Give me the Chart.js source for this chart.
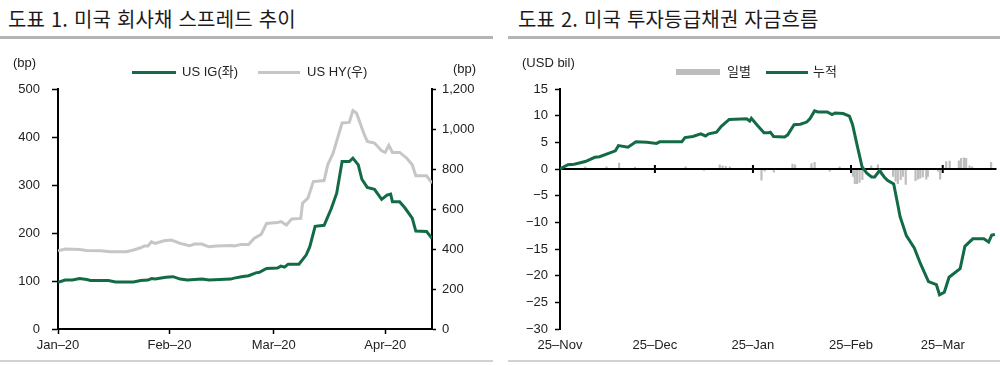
<!DOCTYPE html>
<html lang="ko">
<head>
  <meta charset="UTF-8">
  <title>미국 회사채 스프레드 / 투자등급채권 자금흐름</title>
  <style>
    body {
      margin: 0;
      width: 1000px;
      height: 365px;
      background: #fff;
      position: relative;
      overflow: hidden;
      font-family: 'Liberation Sans', Arial, 'Noto Sans CJK KR', sans-serif;
      color: #222;
    }
    .abs { position: absolute; }
    .title {
      font-family: 'Noto Sans CJK KR', sans-serif;
      font-size: 20px;
      font-weight: 400;
      letter-spacing: 0.2px;
      line-height: 20px;
      top: 9px;
      color: #1a1a1a;
      white-space: nowrap;
    }
    .rule { background: #b4b4b4; height: 3px; top: 36px; }
    .foot { background: #d2d2d2; height: 1.5px; top: 360px; }
    .lbl { font-size: 13px; line-height: 16px; white-space: nowrap; }
    .chart { top: 0; height: 365px; }
  </style>
  <script src="https://cdn.jsdelivr.net/npm/chart.js"></script>
</head>
<body>
  <div class="abs title" style="left:8px">도표 1. 미국 회사채 스프레드 추이</div>
  <div class="abs title" style="left:518px">도표 2. 미국 투자등급채권 자금흐름</div>
  <div class="abs rule" style="left:0;width:493px"></div>
  <div class="abs rule" style="left:508px;width:492px"></div>
  <div class="abs foot" style="left:0;width:493px"></div>
  <div class="abs foot" style="left:508px;width:492px"></div>

  <div class="abs chart" style="left:0;width:495px"><canvas id="spread"></canvas></div>
  <div class="abs chart" style="left:500px;width:500px"><canvas id="flows"></canvas></div>

  <div class="abs lbl" style="left:13px;top:55px">(bp)</div>
  <div class="abs lbl" style="left:453px;top:61px">(bp)</div>
  <div class="abs lbl" style="left:522px;top:55px">(USD bil)</div>

  <div class="abs" style="left:132px;top:70.5px;width:44px;height:3px;background:#136b46"></div>
  <div class="abs lbl" style="left:182px;top:64px">US IG(좌)</div>
  <div class="abs" style="left:258px;top:70.5px;width:42px;height:3px;background:#c6c6c6"></div>
  <div class="abs lbl" style="left:307px;top:64px">US HY(우)</div>

  <div class="abs" style="left:676px;top:68.5px;width:44px;height:6px;background:#bdbdbd"></div>
  <div class="abs lbl" style="left:727px;top:64px">일별</div>
  <div class="abs" style="left:766px;top:70.5px;width:42px;height:3px;background:#136b46"></div>
  <div class="abs lbl" style="left:813px;top:64px">누적</div>

  <script>
    // 도표 1 : x = days since 2020-01-01
    const igDays = [0, 2, 4, 6, 8, 9, 14, 16, 21, 23, 25, 26, 27, 30, 32, 34, 36, 38, 40, 42, 48, 49, 51, 53, 55, 56, 58, 61, 62, 63, 64, 67, 69, 70, 71.5, 74, 76, 77.5, 79, 81, 82, 83.5, 84.5, 86, 88, 90, 91.5, 92.5, 93, 95, 96.5, 98.5, 99.5, 102.5, 104];
    const igValues = [97, 102, 102, 105, 103, 101, 101, 98, 98, 101, 102, 105, 104, 108, 109, 104, 102, 103, 104, 102, 104, 106, 109, 111, 117, 118, 126, 127, 131, 129, 135, 135, 154, 171, 214, 216, 251, 283, 349, 349, 356, 342, 312, 295, 291, 270, 279, 281, 265, 265, 252, 231, 204, 203, 189];
    const hyDays = [0, 2, 6, 8, 12, 14.5, 19, 21, 23, 24, 25, 26, 27, 29.5, 31.5, 34, 36.5, 38, 40, 42, 44, 48, 49, 51, 53, 54.5, 56.5, 58, 61, 62, 63.5, 65, 67.5, 68, 69.5, 71, 74, 75, 76.5, 79, 81, 82, 83, 85, 86, 88, 90, 91, 92, 93, 95, 97, 98.5, 99.5, 102.5, 104];
    const hyValues = [391, 400, 398, 393, 391, 386, 386, 395, 406, 415, 415, 436, 428, 441, 445, 428, 416, 425, 425, 411, 415, 418, 415, 423, 423, 453, 473, 528, 532, 537, 520, 550, 553, 629, 654, 737, 742, 821, 879, 1030, 1033, 1092, 1080, 980, 938, 930, 891, 883, 918, 883, 883, 854, 821, 766, 766, 729];
    const spreadTickDays = [0, 31, 60, 91];
    const spreadTickLabels = ['Jan–20', 'Feb–20', 'Mar–20', 'Apr–20'];

    // 도표 2 : x = days since 2019-11-25
    const cumDays = [0, 2.5, 4.5, 8, 11, 12.5, 17.5, 18.5, 21.5, 24, 27.5, 30.5, 31.5, 38.5, 39.5, 42, 44.5, 46, 47, 49.5, 51, 53.5, 59, 60, 60.5, 62.5, 64.5, 66, 66.5, 67.5, 71, 72, 74, 76, 78, 79, 80.5, 81.5, 84.5, 86, 87, 89.5, 91.5, 92.5, 94, 95.5, 97, 98.5, 99.5, 101, 102.5, 103.5, 105.5, 107, 107.5, 109.5, 112, 114, 116.5, 119, 120, 121.5, 123, 126.5, 128, 130.5, 134, 135.5, 136.5, 137.5];
    const cumValues = [0, 0.8, 0.9, 1.4, 2.2, 2.3, 3.4, 4.4, 4.1, 5.1, 5.0, 4.8, 5.1, 5.1, 5.9, 6.1, 6.6, 6.2, 6.6, 6.9, 8.0, 9.3, 9.4, 9.0, 9.5, 8.1, 6.8, 6.8, 6.9, 6.1, 6.0, 6.4, 8.3, 8.4, 8.8, 9.4, 10.9, 10.7, 10.7, 10.2, 10.5, 10.4, 9.9, 8.3, 4.3, 0.4, -0.8, -1.5, -1.5, -0.3, -1.5, -2.1, -2.8, -7.3, -8.9, -12.5, -14.8, -17.8, -21.1, -21.7, -23.6, -23.1, -20.3, -18.7, -14.5, -13.1, -13.1, -13.7, -12.4, -12.3];
    const dailyDays = [8, 14.7, 18.7, 23.7, 39.7, 45.5, 50.5, 51.4, 52.4, 53.7, 63.7, 64.7, 67.6, 73.5, 74.3, 79.5, 80.5, 85.3, 88.4, 92.6, 93.2, 93.9, 94.7, 95.6, 98.4, 100.5, 101.6, 105.3, 106.1, 106.8, 107.7, 108.4, 109.3, 112.4, 113.2, 113.9, 114.7, 115.8, 116.3, 119.5, 120.2, 122.1, 123.2, 126.1, 126.8, 127.7, 128.4, 129.5, 130.3, 136.3];
    const dailyValues = [0.4, 0.4, 1.1, 0.3, 0.4, -0.25, 0.8, 0.6, 0.5, 0.4, -2.1, -0.4, -0.6, 0.9, 0.8, 1.0, 1.25, -0.4, 0.4, -1.4, -2.75, -2.75, -2.5, -2.0, 0.6, 0.8, -0.75, -1.4, -2.3, -2.75, -2.0, -1.4, -2.9, -2.2, -1.9, -1.7, -1.5, -1.9, -1.4, -0.4, -1.9, 1.4, 1.5, 1.55, 2.0, 2.1, 2.0, 0.6, 0.4, 1.25];
    const flowTickDays = [0, 30, 61, 92, 121];
    const flowTickLabels = ['25–Nov', '25–Dec', '25–Jan', '25–Feb', '25–Mar'];

    const GREEN = '#136b46';
    const pts = (xs, ys) => xs.map((x, i) => ({ x: x, y: ys[i] }));

    Chart.defaults.font.family = "'Liberation Sans', Arial, sans-serif";
    Chart.defaults.font.size = 13;
    Chart.defaults.color = '#222';
    Chart.defaults.animation = false;
    Chart.defaults.plugins.legend.display = false;
    Chart.defaults.plugins.tooltip.enabled = false;

    const axisGrid = { drawOnChartArea: false, tickLength: 6, tickColor: '#000', tickWidth: 1.5 };
    const axisBorder = { color: '#000', width: 2 };

    new Chart(document.getElementById('spread'), {
      type: 'line',
      data: {
        datasets: [
          { label: 'US IG(좌)', data: pts(igDays, igValues), yAxisID: 'y', borderColor: GREEN, borderWidth: 3, pointRadius: 0, tension: 0 },
          { label: 'US HY(우)', data: pts(hyDays, hyValues), yAxisID: 'y2', borderColor: '#c6c6c6', borderWidth: 3, pointRadius: 0, tension: 0 }
        ]
      },
      options: {
        responsive: true,
        maintainAspectRatio: false,
        layout: { padding: { top: 89, bottom: 6, left: 0, right: 0 } },
        scales: {
          x: {
            type: 'linear', min: 0, max: 104,
            afterBuildTicks: s => { s.ticks = spreadTickDays.map(v => ({ value: v })); },
            afterFit: s => { s.height = 30; },
            ticks: { autoSkip: false, maxRotation: 0, padding: 4, callback: (v, i) => spreadTickLabels[i] },
            grid: Object.assign({}, axisGrid, { tickLength: 5 }),
            border: axisBorder
          },
          y: {
            position: 'left', min: 0, max: 500,
            afterFit: s => { s.width = 58; },
            ticks: { stepSize: 100, padding: 12 },
            grid: axisGrid,
            border: axisBorder
          },
          y2: {
            position: 'right', min: 0, max: 1200,
            afterFit: s => { s.width = 63; },
            ticks: { stepSize: 200, padding: 6, callback: v => v.toLocaleString('en-US') },
            grid: Object.assign({}, axisGrid, { tickLength: 4 }),
            border: axisBorder
          }
        }
      }
    });

    // black zero line with crossing tick marks, drawn between the bars and the line
    const zeroAxis = {
      id: 'zeroAxis',
      afterDatasetDraw(chart, args) {
        if (args.meta.type !== 'bar') return;
        const { ctx, chartArea, scales } = chart;
        const y0 = scales.y.getPixelForValue(0);
        ctx.save();
        ctx.strokeStyle = '#000';
        ctx.lineWidth = 2;
        ctx.beginPath();
        ctx.moveTo(chartArea.left, y0);
        ctx.lineTo(chartArea.right, y0);
        scales.x.ticks.forEach(t => {
          if (t.value === 0) return;
          const px = scales.x.getPixelForValue(t.value);
          ctx.moveTo(px, y0 - 4);
          ctx.lineTo(px, y0 + 4);
        });
        ctx.stroke();
        ctx.restore();
      }
    };

    new Chart(document.getElementById('flows'), {
      type: 'bar',
      data: {
        datasets: [
          { type: 'line', label: '누적', data: pts(cumDays, cumValues), borderColor: GREEN, borderWidth: 3, pointRadius: 0, tension: 0, order: 0 },
          { type: 'bar', label: '일별', data: pts(dailyDays, dailyValues), backgroundColor: '#bdbdbd', barThickness: 1.5, order: 1 }
        ]
      },
      options: {
        responsive: true,
        maintainAspectRatio: false,
        layout: { padding: { top: 89, bottom: 6, left: 0, right: 3.5 } },
        scales: {
          x: {
            type: 'linear', min: 0, max: 138, offset: false,
            afterBuildTicks: s => { s.ticks = flowTickDays.map(v => ({ value: v })); },
            afterFit: s => { s.height = 30; },
            ticks: { autoSkip: false, maxRotation: 0, padding: 9, callback: (v, i) => flowTickLabels[i] },
            grid: { display: false, drawTicks: false },
            border: { display: false }
          },
          y: {
            position: 'left', min: -30, max: 15,
            afterFit: s => { s.width = 60; },
            ticks: { stepSize: 5, padding: 7, callback: v => v < 0 ? '−' + Math.abs(v) : String(v) },
            grid: Object.assign({}, axisGrid, { tickLength: 5 }),
            border: axisBorder
          }
        }
      },
      plugins: [zeroAxis]
    });
  </script>
</body>
</html>
